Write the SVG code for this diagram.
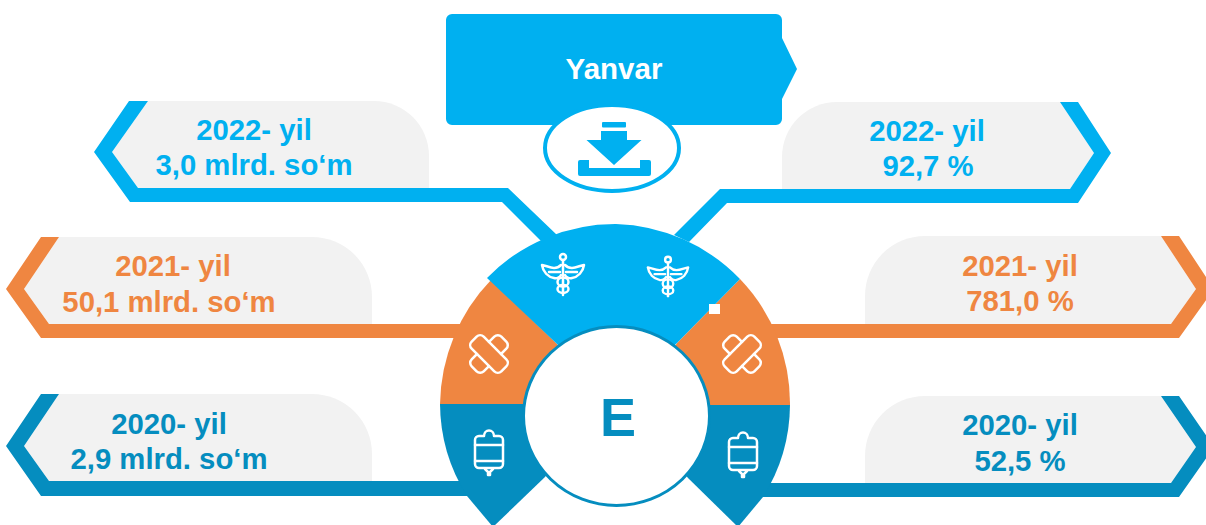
<svg xmlns="http://www.w3.org/2000/svg" width="1206" height="525" viewBox="0 0 1206 525">
<style>
.t{font-family:"Liberation Sans",Arial,sans-serif;font-weight:700;font-size:29.300px;text-anchor:middle}
.b{fill:#00B0F0}.o{fill:#EF8641}.d{fill:#058DBF}.g{fill:#F2F2F2}
.i{fill:none;stroke:#fff;stroke-width:2.500;stroke-linejoin:round;stroke-linecap:round}
</style>
<defs>
<g id="caduceus" class="i">
<circle cx="0" cy="-17" r="3"/>
<path d="M0 -14V21"/>
<path d="M-2 -9C-8 -3 -15 -8 -21 -9C-20 -2 -15 3 -9 4C-6 5 -3 3 -2 1"/>
<path d="M2 -9C8 -3 15 -8 21 -9C20 -2 15 3 9 4C6 5 3 3 2 1"/>
<path d="M-14 -2H-3M14 -2H3"/>
<ellipse cx="0" cy="8" rx="5.500" ry="4.500"/>
<ellipse cx="0" cy="15" rx="5.500" ry="4"/>
</g>
<g id="plaster" class="i">
<rect x="-21" y="-8.500" width="42" height="17" rx="5"/>
<path d="M-8.500 -8.500V-16a5 5 0 0 1 5 -5h7a5 5 0 0 1 5 5V-8.500M-8.500 8.500V16a5 5 0 0 0 5 5h7a5 5 0 0 0 5 -5V8.500"/>
</g>
<g id="iv" class="i">
<path d="M-5 -17a5 5.500 0 0 1 10 0h5a4 4 0 0 1 4 4V11a4 4 0 0 1 -4 4H-10a4 4 0 0 1 -4 -4V-13a4 4 0 0 1 4 -4Z"/>
<path d="M-14 -8H14M-14 8H14"/>
<path d="M-4 16l3 3v3h2v-3l3 -3"/>
</g>
</defs>

<g id="top-node">
<path class="b" d="M452 14H776a6 6 0 0 1 6 6V38L797 69L782 99V119a6 6 0 0 1 -6 6H452a6 6 0 0 1 -6 -6V20a6 6 0 0 1 6 -6Z"/>
<text class="t" x="614" y="79" fill="#fff" style="font-size:29.500px">Yanvar</text>
</g>
<g id="download-icon">
<ellipse cx="612" cy="148" rx="67" ry="43" fill="#fff" stroke="#00B0F0" stroke-width="4"/>
<rect class="b" x="602" y="122" width="24" height="5.500" rx="1"/>
<path class="b" d="M601 131H627V140H641.500L614 165L586.500 140H601Z"/>
<path class="b" d="M580 160H589V168H640V160H649a2 2 0 0 1 2 2V174a2 2 0 0 1 -2 2H580a2 2 0 0 1 -2 -2V162a2 2 0 0 1 2 -2Z"/>
</g>

<g id="panel-2022-left">
<path class="g" d="M148 101H374a55 55 0 0 1 55 55V188H138L112 152Z"/>
<text class="t b" x="254" y="140">2022- yil</text>
<text class="t b" x="254" y="175">3,0 mlrd. so‘m</text>
</g>
<g id="panel-2022-right">
<path class="g" d="M1060 102H837a55 55 0 0 0 -55 55V189H1070L1094 153Z"/>
<text class="t b" x="927" y="141">2022- yil</text>
<text class="t b" x="928" y="176">92,7 %</text>
</g>
<g id="panel-2021-left">
<path class="g" d="M59 237H312a60 60 0 0 1 60 60V324H49L24 289Z"/>
<text class="t o" x="173" y="276">2021- yil</text>
<text class="t o" x="169" y="312">50,1 mlrd. so‘m</text>
</g>
<g id="panel-2021-right">
<path class="g" d="M1161 236H925a60 60 0 0 0 -60 60V324H1171L1196 289Z"/>
<text class="t o" x="1020" y="276">2021- yil</text>
<text class="t o" x="1020" y="311">781,0 %</text>
</g>
<g id="panel-2020-left">
<path class="g" d="M59 394H312a60 60 0 0 1 60 60V481H49L24 446Z"/>
<text class="t d" x="169" y="434">2020- yil</text>
<text class="t d" x="169" y="469">2,9 mlrd. so‘m</text>
</g>
<g id="panel-2020-right">
<path class="g" d="M1161 396H925a60 60 0 0 0 -60 60V483H1171L1196 447Z"/>
<text class="t d" x="1020" y="435">2020- yil</text>
<text class="t d" x="1020" y="471">52,5 %</text>
</g>

<g id="connectors">
<polygon class="b" points="129,101 148,101 112,152 138,188 508,188 557,235 541,241 502,202 130,202 94,152"/>
<polygon class="b" points="1078,102 1060,102 1094,153 1070,189 720,189 674,235 689,242 727,203 1078,203 1111,153"/>
<polygon class="o" points="41,237 59,237 24,289 49,324 470,324 470,338 41,338 6,289"/>
<polygon class="o" points="1179,236 1161,236 1196,289 1171,324 760,324 760,338 1179,338 1214,289"/>
<polygon class="d" points="41,394 59,394 24,446 49,481 470,481 470,496 41,496 6,446"/>
<polygon class="d" points="1179,396 1161,396 1196,447 1171,483 750,483 750,497 1179,497 1214,447"/>
</g>

<g id="hub">
<path class="o" d="M491 280A175 180 0 0 0 440 404H530L600 400L557 344Z"/>
<path class="o" d="M740 279A175 178 0 0 1 790 405H700L640 400L677 343Z"/>
<path class="d" d="M440 404A175 175 0 0 0 467 496L493 527L545 477L580 430L525 404Z"/>
<path class="d" d="M790 405A175 175 0 0 1 763 497L738 527L688 478L650 430L708 405Z"/>
<path class="b" d="M487 278A179 179 0 0 1 616 224A180 180 0 0 1 740 279L677 343L616 400L557 344Z"/>
<rect x="709" y="304" width="11" height="10" fill="#fff"/>
<ellipse cx="616.500" cy="416" rx="93" ry="89.500" fill="#fff" stroke="#058DBF" stroke-width="3"/>
<text class="t d" x="618" y="436" style="font-size:54px">E</text>
</g>

<g id="icon-caduceus-left"><use href="#caduceus" transform="translate(563 274)"/></g>
<g id="icon-caduceus-right"><use href="#caduceus" transform="translate(668 276) scale(.96)"/></g>
<g id="icon-plaster-left"><use href="#plaster" transform="translate(489 354) rotate(45)"/></g>
<g id="icon-plaster-right"><use href="#plaster" transform="translate(742 354) rotate(-45)"/></g>
<g id="icon-iv-left"><use href="#iv" transform="translate(489 453)"/></g>
<g id="icon-iv-right"><use href="#iv" transform="translate(743 455)"/></g>
</svg>
